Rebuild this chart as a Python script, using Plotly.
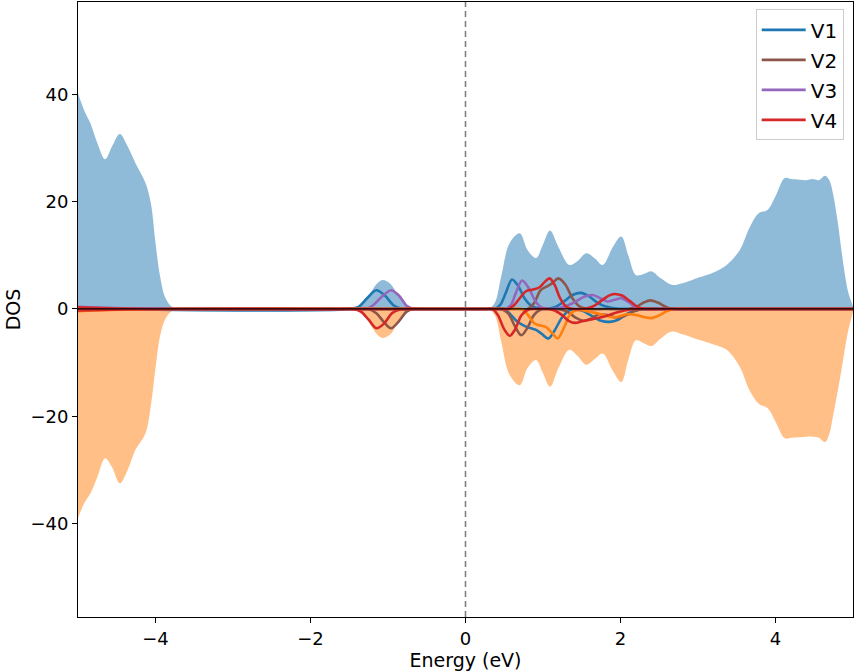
import plotly.graph_objects as go

# ---------------- data ----------------
# total DOS energy grid and spin-up / spin-down values
tot_E = [-5.0, -4.92, -4.84, -4.75, -4.65, -4.56, -4.46, -4.36, -4.26, -4.13, -4.06, -4.0,
         -3.94, -3.87, -3.78, -3.7, -3.5, -1.6, -1.45, -1.35, -1.25, -1.15, -1.07, -0.97,
         -0.87, -0.77, -0.7, -0.5, 0.2, 0.3, 0.38, 0.46, 0.57, 0.70, 0.80, 0.91, 1.0, 1.09,
         1.2, 1.34, 1.45, 1.56, 1.67, 1.77, 1.9, 2.01, 2.1, 2.2, 2.3, 2.4, 2.52, 2.66, 2.8,
         3.02, 3.2, 3.37, 3.54, 3.66, 3.78, 3.9, 4.0, 4.12, 4.2, 4.31, 4.4, 4.48, 4.56, 4.64,
         4.7, 4.74, 4.8, 4.85, 4.9, 4.94, 5.0]
tot_up = [40.2, 37.0, 34.6, 30.9, 27.9, 30.3, 32.6, 30.3, 27.2, 23.5, 19.7, 12.3,
          6.0, 2.0, 0.3, 0.0, 0.0, 0.0, 0.0, 0.6, 2.4, 4.6, 5.4, 4.7,
          2.5, 0.5, 0.0, 0.0, 0.0, 0.0, 1.2, 6.0, 12.3, 14.1, 11.0, 9.5, 12.0, 14.6,
          11.5, 8.2, 9.0, 10.4, 9.4, 8.2, 11.5, 13.5, 10.0, 6.3, 6.5, 7.0, 5.7, 4.5, 4.8,
          5.9, 6.8, 8.2, 11.0, 15.0, 17.8, 18.5, 21.0, 24.4, 24.2, 24.1, 24.0, 24.2, 24.0, 24.8,
          23.8, 21.6, 16.5, 11.0, 6.0, 3.0, 0.5]
tot_dn = [-39.0, -36.2, -34.4, -31.3, -27.8, -29.5, -32.5, -30.0, -26.3, -23.2, -18.0, -11.0,
          -5.0, -1.8, -0.3, 0.0, 0.0, 0.0, 0.0, -0.6, -2.4, -4.6, -5.4, -4.7,
          -2.5, -0.5, 0.0, 0.0, 0.0, 0.0, -1.2, -6.0, -12.3, -14.2, -11.0, -9.5, -12.0, -14.5,
          -11.0, -7.6, -8.8, -10.4, -9.3, -8.3, -11.5, -13.6, -9.5, -5.8, -6.4, -6.9, -5.5, -4.2, -4.7,
          -5.8, -6.6, -7.6, -10.8, -15.0, -17.6, -18.5, -21.0, -24.1, -24.0, -23.9, -23.8, -23.8, -24.0, -24.8,
          -23.0, -20.1, -15.5, -11.4, -7.0, -3.9, -0.5]

# projected DOS, one (energy, value) pair of lists per atom and spin
v1_up_E = [-5.0, -1.5, -1.38, -1.27, -1.15, -1.04, -0.93, -0.82, -0.7, 0.3, 0.38, 0.45, 0.52, 0.60,
           0.68, 0.77, 0.86, 0.98, 1.15, 1.28, 1.38, 1.49, 1.6, 1.7, 1.8, 1.95, 2.1, 2.3, 5.0]
v1_up = [0.0, 0.0, 0.4, 2.0, 3.5, 2.5, 0.7, 0.0, 0.0, 0.0, 0.0, 0.8, 3.0, 5.5,
         4.3, 1.8, 0.5, 0.1, 0.3, 1.5, 2.6, 3.0, 2.3, 1.2, 0.5, 0.1, 0.0, 0.0, 0.0]
v1_dn_E = [-5.0, 0.4, 0.5, 0.58, 0.67, 0.78, 0.91, 0.98, 1.07, 1.15, 1.25, 1.35, 1.5, 1.62,
           1.75, 1.86, 1.97, 2.1, 2.25, 2.4, 2.6, 5.0]
v1_dn = [0.0, 0.0, 0.0, -1.0, -2.4, -3.3, -3.9, -4.6, -5.5, -4.0, -1.5, -0.2, -0.3, -1.2,
         -2.2, -2.4, -2.0, -0.8, -0.1, 0.0, 0.0, 0.0]

v2_up_E = [-5.0, 0.7, 0.8, 0.88, 0.97, 1.05, 1.12, 1.2, 1.29, 1.38, 1.47, 1.6, 1.8, 2.1,
           2.2, 2.3, 2.38, 2.48, 2.6, 2.7, 2.9, 5.0]
v2_up = [0.0, 0.0, 0.0, 1.0, 3.5, 4.2, 4.8, 5.7, 4.5, 2.0, 0.5, 0.0, 0.0, 0.0,
         0.4, 1.2, 1.6, 1.2, 0.3, 0.0, 0.0, 0.0]
v2_dn_E = [-5.0, -1.4, -1.25, -1.15, -1.05, -0.96, -0.86, -0.76, -0.68, -0.5, 0.3, 0.45, 0.55,
           0.63, 0.72, 0.80, 0.88, 0.96, 1.1, 1.3, 1.42, 1.52, 1.62, 1.72, 1.85, 1.95, 2.05,
           2.18, 2.3, 2.5, 5.0]
v2_dn = [0.0, 0.0, 0.0, -0.8, -2.5, -3.6, -2.3, -0.5, 0.0, 0.0, 0.0, 0.0, -0.8,
         -3.0, -4.9, -3.5, -1.2, -0.2, 0.0, -0.4, -1.6, -2.2, -1.8, -1.0, -1.2, -1.6, -1.3,
         -0.4, 0.0, 0.0, 0.0]

v3_up_E = [-5.0, -4.6, -4.2, -3.8, -1.4, -1.3, -1.2, -1.1, -0.96, -0.86, -0.76, -0.66, -0.5,
           0.4, 0.5, 0.58, 0.65, 0.73, 0.82, 0.9, 0.98, 1.1, 1.25, 1.4, 1.52, 1.64, 1.74,
           1.83, 1.92, 2.01, 2.1, 2.2, 2.3, 2.5, 5.0]
v3_up = [0.4, 0.2, 0.1, 0.0, 0.0, 0.0, 0.6, 2.0, 3.5, 2.5, 0.6, 0.0, 0.0,
         0.0, 0.0, 0.6, 3.0, 5.3, 3.8, 1.5, 0.3, 0.0, 0.3, 1.2, 2.2, 2.6, 2.0,
         1.4, 1.7, 2.0, 1.3, 0.3, 0.0, 0.0, 0.0]
v3_dn_E = [-5.0, -4.6, -4.2, -3.8, 0.6, 0.72, 0.8, 0.89, 0.97, 1.04, 1.12, 1.19, 1.27, 1.36,
           1.45, 1.6, 1.75, 1.88, 1.95, 2.08, 2.2, 2.3, 2.4, 2.5, 2.6, 2.7, 2.9, 5.0]
v3_dn = [-0.4, -0.2, -0.1, 0.0, 0.0, 0.0, -1.0, -2.7, -3.1, -3.4, -4.5, -5.5, -3.5, -0.8,
         -0.2, -0.5, -1.0, -1.5, -1.5, -1.0, -1.1, -1.5, -1.7, -1.2, -0.4, 0.0, 0.0, 0.0]

v4_up_E = [-5.0, -4.5, -4.0, 0.45, 0.55, 0.62, 0.7, 0.78, 0.86, 0.95, 1.02, 1.085, 1.15, 1.22,
           1.3, 1.4, 1.55, 1.65, 1.75, 1.85, 1.92, 2.02, 2.12, 2.22, 2.32, 2.5, 5.0]
v4_up = [0.3, 0.1, 0.0, 0.0, 0.0, 0.6, 2.0, 3.3, 3.6, 4.0, 5.0, 5.7, 4.5, 2.0,
         0.4, 0.0, 0.1, 0.5, 1.5, 2.5, 2.8, 2.5, 1.5, 0.4, 0.0, 0.0, 0.0]
v4_dn_E = [-5.0, -4.4, -3.8, -1.6, -1.45, -1.35, -1.25, -1.15, -1.05, -0.95, -0.85, -0.78,
           -0.6, 0.25, 0.35, 0.42, 0.5, 0.57, 0.64, 0.72, 0.8, 0.9, 1.05, 1.15, 1.25, 1.33,
           1.42, 1.5, 1.6, 1.77, 1.9, 2.05, 2.2, 2.4, 5.0]
v4_dn = [-0.3, -0.1, 0.0, 0.0, 0.0, -0.5, -2.0, -3.6, -2.7, -0.8, -0.1, 0.0,
         0.0, 0.0, 0.0, -1.2, -3.8, -5.0, -3.8, -1.2, -0.2, 0.0, 0.0, -0.3, -1.2, -2.2,
         -2.6, -2.3, -2.0, -1.5, -0.9, -0.3, 0.0, 0.0, 0.0]

names = ["V1", "V2", "V3", "V4"]
x_ticks = [-4, -2, 0, 2, 4]
y_ticks = [-40, -20, 0, 20, 40]

# ---------------- style ----------------
FONT = "DejaVu Sans"
up_colors = ["#1f77b4", "#8c564b", "#9467bd", "#d62728"]
dn_colors = ["#1f77b4", "#8c564b", "#ff7f0e", "#d62728"]
LW = 2.6

fig = go.Figure()

fig.add_trace(go.Scatter(x=tot_E, y=tot_up, mode="lines", line=dict(width=0, shape="spline"),
                         fill="tozeroy", fillcolor="rgba(31,119,180,0.5)", showlegend=False,
                         hoverinfo="skip"))
fig.add_trace(go.Scatter(x=tot_E, y=tot_dn, mode="lines", line=dict(width=0, shape="spline"),
                         fill="tozeroy", fillcolor="rgba(255,127,14,0.5)", showlegend=False,
                         hoverinfo="skip"))

series = [(v1_up_E, v1_up, v1_dn_E, v1_dn), (v2_up_E, v2_up, v2_dn_E, v2_dn),
          (v3_up_E, v3_up, v3_dn_E, v3_dn), (v4_up_E, v4_up, v4_dn_E, v4_dn)]

for i, (ue, uv, de, dv) in enumerate(series):
    fig.add_trace(go.Scatter(x=ue, y=uv, mode="lines", name=names[i], legendgroup=names[i],
                             line=dict(color=up_colors[i], width=LW, shape="spline", smoothing=0.9)))
    fig.add_trace(go.Scatter(x=de, y=dv, mode="lines", name=names[i], legendgroup=names[i],
                             showlegend=False,
                             line=dict(color=dn_colors[i], width=LW, shape="spline", smoothing=0.9)))

# black zero line on top
fig.add_trace(go.Scatter(x=[-5, 5], y=[0, 0], mode="lines", line=dict(color="black", width=1.2),
                         showlegend=False, hoverinfo="skip"))

# Fermi level
fig.add_shape(type="line", x0=0, x1=0, y0=0, y1=1, xref="x", yref="paper",
              line=dict(color="#808080", width=1.6, dash="6px,4px"), layer="above")

axis_common = dict(showline=True, linecolor="black", linewidth=1, mirror=True,
                   ticks="outside", ticklen=5, tickwidth=1, tickcolor="black",
                   showgrid=False, zeroline=False, automargin=False,
                   tickfont=dict(family=FONT, size=18, color="black"))

fig.update_layout(
    width=855, height=672,
    margin=dict(l=78, r=2, t=2, b=55),
    paper_bgcolor="white", plot_bgcolor="white",
    font=dict(family=FONT, color="black"),
    xaxis=dict(range=[-5, 5], tickvals=x_ticks,
               title=dict(text="Energy (eV)", font=dict(family=FONT, size=19), standoff=4),
               **axis_common),
    yaxis=dict(range=[-57.4, 57.2], tickvals=y_ticks,
               title=dict(text="DOS", font=dict(family=FONT, size=19), standoff=4),
               **axis_common),
    legend=dict(x=0.988, y=0.988, xanchor="right", yanchor="top",
                bgcolor="rgba(255,255,255,0.8)", bordercolor="#cccccc", borderwidth=1,
                font=dict(family=FONT, size=20), tracegroupgap=1, itemwidth=44,
                entrywidth=94),
    showlegend=True,
)

fig.write_html("out.html", config={"displayModeBar": False},
               post_script="document.body.style.margin='0';")
